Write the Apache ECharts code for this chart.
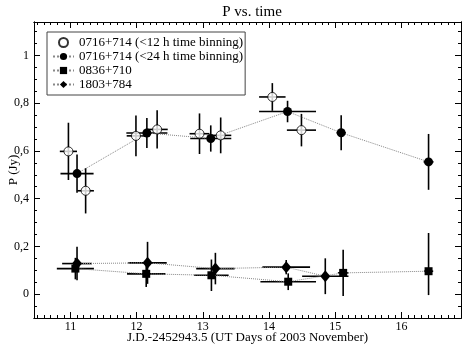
<!DOCTYPE html>
<html>
<head>
<meta charset="utf-8">
<script src="https://cdn.jsdelivr.net/npm/echarts@6/dist/echarts.min.js"></script>
<style>
  html, body { margin: 0; padding: 0; background: #fff; }
  #chart { width: 463px; height: 348px; }
</style>
</head>
<body>
<div id="chart"></div>
<script>
// 0716+714, <12 h time binning (open circles)
const open12X = [10.97, 11.23, 11.99, 12.31, 12.95, 13.27, 14.05, 14.49];
const open12Y = [0.598, 0.433, 0.663, 0.690, 0.672, 0.665, 0.826, 0.687];
const open12XErr = [0.13, 0.125, 0.14, 0.16, 0.15, 0.16, 0.2, 0.22];
const open12YErr = [0.12, 0.095, 0.085, 0.08, 0.085, 0.075, 0.058, 0.068];

// 0716+714, <24 h time binning (filled circles)
const full24X = [11.10, 12.155, 13.12, 14.28, 15.09, 16.41];
const full24Y = [0.505, 0.675, 0.652, 0.765, 0.676, 0.554];
const full24XErr = [0.25, 0.31, 0.31, 0.43, 0.07, 0.075];
const full24YErr = [0.08, 0.063, 0.055, 0.045, 0.073, 0.117];

// 0836+710 (squares)
const sqX = [11.075, 12.145, 13.13, 14.29, 15.12, 16.41];
const sqY = [0.107, 0.085, 0.079, 0.052, 0.089, 0.096];
const sqXErr = [0.28, 0.29, 0.26, 0.42, 0.08, 0.07];
const sqYErrLo = [0.045, 0.055, 0.066, 0.035, 0.097, 0.1];
const sqYErrHi = [0.045, 0.055, 0.066, 0.035, 0.097, 0.16];

// 1803+784 (diamonds)
const diaX = [11.10, 12.165, 13.19, 14.26, 14.85];
const diaY = [0.128, 0.131, 0.107, 0.113, 0.075];
const diaXErr = [0.225, 0.29, 0.29, 0.36, 0.35];
const diaYErr = [0.07, 0.088, 0.066, 0.03, 0.075];

const names = [
  "0716+714 (<12 h time binning)",
  "0716+714 (<24 h time binning)",
  "0836+710",
  "1803+784"
];

const xMajor = [11, 12, 13, 14, 15, 16];
const yMajor = [0, 0.2, 0.4, 0.6, 0.8, 1];
const xMin = 10.45, xMax = 16.9;
const yMin = -0.1, yMax = 1.14;

// minor ticks every 0.1 day / 0.05 Jy
const xMinor = [];
for (let k = 105; k <= 168; k++) if (k % 10 !== 0) xMinor.push(k / 10);
const yMinor = [];
for (let k = -2; k <= 22; k++) if (k % 4 !== 0) yMinor.push(Math.round(k * 5) / 100);

const font = "Liberation Serif";

function pairs(xs, ys) {
  return xs.map((x, i) => [x, ys[i]]);
}

function errorSeries(xs, ys, xe, lo, hi) {
  return {
    type: "custom",
    silent: true,
    z: 1,
    encode: { x: 0, y: 1 },
    data: xs.map((x, i) => [x, ys[i], xe[i], lo[i], hi[i]]),
    renderItem: (params, api) => {
      const x = api.value(0), y = api.value(1);
      const ex = api.value(2), el = api.value(3), eh = api.value(4);
      const a = api.coord([x - ex, y]), b = api.coord([x + ex, y]);
      const c = api.coord([x, y - el]), d = api.coord([x, y + eh]);
      const style = { stroke: "#000", lineWidth: 1.6 };
      return {
        type: "group",
        children: [
          { type: "line", shape: { x1: a[0], y1: a[1], x2: b[0], y2: b[1] }, style },
          { type: "line", shape: { x1: c[0], y1: c[1], x2: d[0], y2: d[1] }, style }
        ]
      };
    }
  };
}

function xAxisDef(pos, ticks, len, main) {
  return {
    type: "value",
    position: pos,
    min: xMin,
    max: xMax,
    name: main ? "J.D.-2452943.5 (UT Days of 2003 November)" : "",
    nameLocation: "middle",
    nameGap: 13,
    nameMoveOverlap: false,
    nameTextStyle: { fontFamily: font, fontSize: 13, color: "#000" },
    axisLine: { show: true, onZero: false, lineStyle: { color: "#000", width: 1 } },
    axisTick: { show: true, inside: true, length: len, customValues: ticks, lineStyle: { color: "#000" } },
    axisLabel: main
      ? { show: true, customValues: xMajor, margin: 3, fontFamily: font, fontSize: 12, color: "#000" }
      : { show: false },
    splitLine: { show: false }
  };
}

function yAxisDef(pos, ticks, len, main) {
  return {
    type: "value",
    position: pos,
    min: yMin,
    max: yMax,
    name: main ? "P (Jy)" : "",
    nameLocation: "middle",
    nameGap: 14,
    nameMoveOverlap: false,
    nameRotate: 90,
    nameTextStyle: { fontFamily: font, fontSize: 13, color: "#000" },
    axisLine: { show: true, onZero: false, lineStyle: { color: "#000", width: 1 } },
    axisTick: { show: true, inside: true, length: len, customValues: ticks, lineStyle: { color: "#000" } },
    axisLabel: main
      ? {
          show: true, customValues: yMajor, margin: 5, fontFamily: font, fontSize: 12, color: "#000",
          formatter: v => String(v).replace(".", ",")
        }
      : { show: false },
    splitLine: { show: false }
  };
}

const dotted = { color: "#888", type: "dotted", width: 1 };

const chart = echarts.init(document.getElementById("chart"));
chart.setOption({
  animation: false,
  backgroundColor: "#fff",
  title: {
    text: "P vs. time",
    left: 247,
    top: 0,
    textAlign: "center",
    textStyle: { fontFamily: font, fontSize: 15, fontWeight: "normal", color: "#000" }
  },
  legend: {
    orient: "vertical",
    left: 47,
    top: 32,
    itemGap: 1,
    itemWidth: 21,
    itemHeight: 9,
    padding: [4, 2, 4, 5],
    borderColor: "#444",
    borderWidth: 1,
    backgroundColor: "#fff",
    textStyle: { fontFamily: font, fontSize: 13, color: "#000" },
    data: names
  },
  grid: { left: 34, right: 2, top: 22, bottom: 30, outerBoundsMode: "none" },
  xAxis: [
    xAxisDef("bottom", xMajor, 6, true),
    xAxisDef("bottom", xMinor, 3, false),
    xAxisDef("top", xMajor, 6, false),
    xAxisDef("top", xMinor, 3, false)
  ],
  yAxis: [
    yAxisDef("left", yMajor, 6, true),
    yAxisDef("left", yMinor, 3, false),
    yAxisDef("right", yMajor, 6, false),
    yAxisDef("right", yMinor, 3, false)
  ],
  series: [
    errorSeries(open12X, open12Y, open12XErr, open12YErr, open12YErr),
    errorSeries(full24X, full24Y, full24XErr, full24YErr, full24YErr),
    errorSeries(sqX, sqY, sqXErr, sqYErrLo, sqYErrHi),
    errorSeries(diaX, diaY, diaXErr, diaYErr, diaYErr),
    {
      name: names[0],
      type: "scatter",
      z: 3,
      symbol: "circle",
      symbolSize: 9,
      itemStyle: { color: "#fff", borderColor: "#000", borderWidth: 1 },
      data: pairs(open12X, open12Y)
    },
    {
      name: names[1],
      type: "line",
      z: 2,
      symbol: "circle",
      symbolSize: 9,
      showAllSymbol: true,
      lineStyle: dotted,
      itemStyle: { color: "#000" },
      data: pairs(full24X, full24Y)
    },
    {
      name: names[2],
      type: "line",
      z: 2,
      symbol: "rect",
      symbolSize: 8,
      showAllSymbol: true,
      lineStyle: dotted,
      itemStyle: { color: "#000" },
      data: pairs(sqX, sqY)
    },
    {
      name: names[3],
      type: "line",
      z: 2,
      symbol: "diamond",
      symbolSize: [10, 12],
      showAllSymbol: true,
      lineStyle: dotted,
      itemStyle: { color: "#000" },
      data: pairs(diaX, diaY)
    }
  ]
});
</script>
</body>
</html>
